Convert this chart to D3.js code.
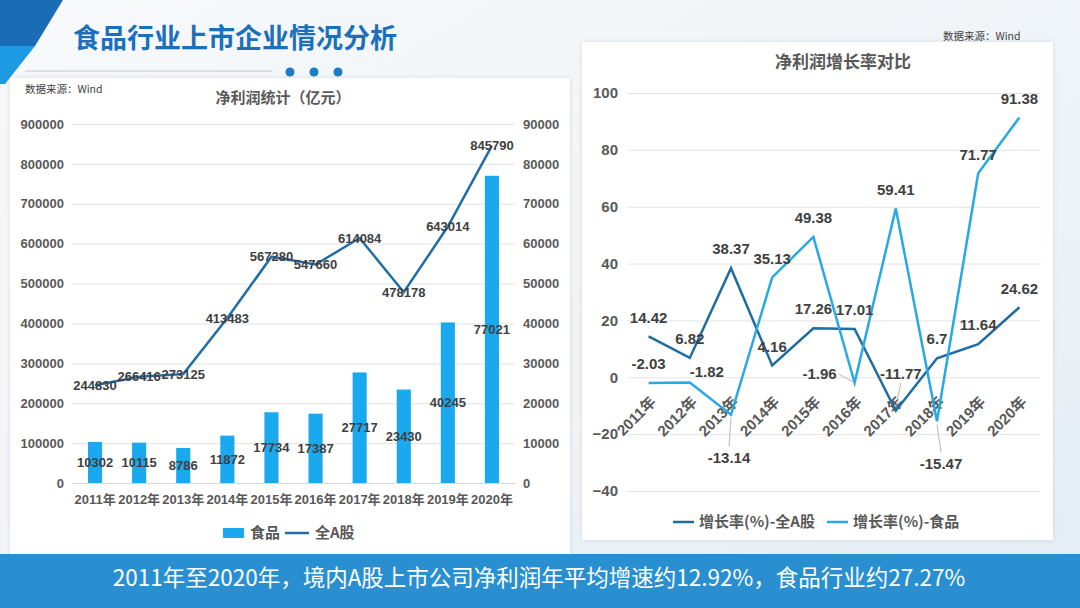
<!DOCTYPE html>
<html><head><meta charset="utf-8">
<script src="https://cdn.jsdelivr.net/npm/d3@7/dist/d3.min.js"></script>
<style>
html,body{margin:0;padding:0;background:#fff;}
svg{display:block;font-family:"Liberation Sans","Noto Sans CJK SC",Arial,sans-serif;}
</style></head>
<body>
<svg id="c" width="1080" height="608"></svg>
<script>
// ---- data ----
const years = ['2011年','2012年','2013年','2014年','2015年','2016年','2017年','2018年','2019年','2020年'];
const foodProfit = [10302,10115,8786,11872,17734,17387,27717,23430,40245,77021];
const allAProfit = [244830,266416,273125,413483,567280,547660,614084,478178,643014,845790];
const allAGrowth = [14.42,6.82,38.37,4.16,17.26,17.01,-11.77,6.7,11.64,24.62];
const foodGrowth = [-2.03,-1.82,-13.14,35.13,49.38,-1.96,59.41,-15.47,71.77,91.38];
const leftTicks = [0,100000,200000,300000,400000,500000,600000,700000,800000,900000];
const rightTicks = [0,10000,20000,30000,40000,50000,60000,70000,80000,90000];
const growthTicks = [-40,-20,0,20,40,60,80,100];

// ---- label placement tweaks (layout only) ----
const labelShift = {
  'food-1':[17,8], 'food-2':[-2,62], 'food-5':[-35,10], 'food-7':[4,61],
  'all-6':[5,-18]
};
const leaders = {'food-2':true,'food-5':true,'food-7':true,'all-6':true};

const svg = d3.select('#c');
const defs = svg.append('defs');
const bg = defs.append('linearGradient').attr('id','bg').attr('x1',0).attr('y1',0).attr('x2',1).attr('y2',1);
bg.append('stop').attr('offset','0%').attr('stop-color','#f7f9fb');
bg.append('stop').attr('offset','60%').attr('stop-color','#eef3f7');
bg.append('stop').attr('offset','100%').attr('stop-color','#e3edf5');
const sh = defs.append('filter').attr('id','sh').attr('x','-5%').attr('y','-5%').attr('width','110%').attr('height','110%');
sh.append('feDropShadow').attr('dx',0).attr('dy',0).attr('stdDeviation',2).attr('flood-color','#9aa9b8').attr('flood-opacity',0.35);

svg.append('rect').attr('width',1080).attr('height',608).attr('fill','url(#bg)');

// top-left decorative shape
svg.append('polygon').attr('points','0,0 63,0 35,46 0,46').attr('fill','#1a6db5');
svg.append('polygon').attr('points','0,46 35,46 5,84 0,84').attr('fill','#1c9ae4');

// title
svg.append('text').attr('x',73).attr('y',48).attr('font-size',27).attr('font-weight','bold')
  .attr('fill','#1b70bb').attr('font-family','"Noto Sans CJK SC",sans-serif').text('食品行业上市企业情况分析');
svg.append('line').attr('x1',25).attr('x2',272).attr('y1',71).attr('y2',71).attr('stroke','#bfc6cc').attr('stroke-width',1);
[290,314,338].forEach(cx=>svg.append('circle').attr('cx',cx).attr('cy',72).attr('r',4.5).attr('fill','#1a7cc4'));

// panels
svg.append('rect').attr('x',10).attr('y',78).attr('width',560).attr('height',480).attr('fill','#fff').attr('filter','url(#sh)');
svg.append('rect').attr('x',582).attr('y',42).attr('width',471).attr('height',498).attr('fill','#fff').attr('filter','url(#sh)');

// bottom band
svg.append('rect').attr('x',0).attr('y',554).attr('width',1080).attr('height',54).attr('fill','#2a8fd1');
svg.append('text').attr('x',539).attr('y',586).attr('text-anchor','middle').attr('font-size',22.5)
  .attr('fill','#ffffff').attr('font-family','"Noto Sans CJK SC",sans-serif')
  .text('2011年至2020年，境内A股上市公司净利润年平均增速约12.92%，食品行业约27.27%');

const txtCol = '#404040', axCol = '#595959', grid = '#e3e3e3';

// ================= LEFT CHART =================
const L = {x0:73, x1:514, yTop:124, yBot:483};
svg.append('text').attr('x',25).attr('y',93).attr('font-size',10.5).attr('fill','#404040')
  .attr('font-family','"Noto Sans CJK SC",sans-serif').text('数据来源：Wind');
svg.append('text').attr('x',283).attr('y',103).attr('text-anchor','middle').attr('font-size',15).attr('font-weight','bold')
  .attr('fill',axCol).attr('font-family','"Noto Sans CJK SC",sans-serif').text('净利润统计（亿元）');

const xL = d3.scaleBand().domain(years).range([L.x0,L.x1]).paddingInner(0.68).paddingOuter(0.34);
const yL = d3.scaleLinear().domain([0,900000]).range([L.yBot,L.yTop]);
const yR = d3.scaleLinear().domain([0,90000]).range([L.yBot,L.yTop]);
const cx = d => xL(d)+xL.bandwidth()/2;

// grid
const gG = svg.append('g').attr('transform',`translate(${L.x0-1},0)`)
  .call(d3.axisLeft(yL).tickValues(leftTicks).tickSize(-(L.x1-L.x0+2)).tickFormat(''));
gG.select('.domain').remove();
gG.selectAll('line').attr('stroke',grid);

const gLA = svg.append('g').attr('transform',`translate(${L.x0-1},0)`)
  .call(d3.axisLeft(yL).tickValues(leftTicks).tickSize(0).tickPadding(8).tickFormat(d3.format('d')));
gLA.select('.domain').remove();
gLA.selectAll('text').attr('font-size',13).attr('font-weight','bold').attr('fill',axCol);

const gRA = svg.append('g').attr('transform',`translate(${L.x1+1},0)`)
  .call(d3.axisRight(yR).tickValues(rightTicks).tickSize(0).tickPadding(8).tickFormat(d3.format('d')));
gRA.select('.domain').remove();
gRA.selectAll('text').attr('font-size',13).attr('font-weight','bold').attr('fill',axCol);

const gX = svg.append('g').attr('transform',`translate(0,${L.yBot})`)
  .call(d3.axisBottom(xL).tickSize(0).tickPadding(12));
gX.select('.domain').attr('stroke','#d9d9d9');
gX.selectAll('text').attr('font-size',13).attr('font-weight','bold').attr('fill',axCol)
  .attr('font-family','"Liberation Sans","Noto Sans CJK SC",sans-serif');

const barCol = '#1aa8ee', lineCol = '#1f6ea8';
svg.append('g').selectAll('rect').data(years).join('rect')
  .attr('x',d=>xL(d)).attr('width',xL.bandwidth())
  .attr('y',(d,i)=>yR(foodProfit[i])).attr('height',(d,i)=>L.yBot-yR(foodProfit[i]))
  .attr('fill',barCol);

const lineL = d3.line().x((d,i)=>cx(years[i])).y(d=>yL(d));
svg.append('path').datum(allAProfit).attr('d',lineL).attr('fill','none').attr('stroke',lineCol).attr('stroke-width',2.5);

svg.append('g').selectAll('text').data(years).join('text')
  .attr('x',d=>cx(d)).attr('y',(d,i)=>(yR(foodProfit[i])+L.yBot)/2).attr('dy','0.35em')
  .attr('text-anchor','middle').attr('font-size',13).attr('font-weight','bold').attr('fill',txtCol)
  .text((d,i)=>foodProfit[i]);
svg.append('g').selectAll('text').data(years).join('text')
  .attr('x',d=>cx(d)).attr('y',(d,i)=>yL(allAProfit[i])).attr('dy','0.35em')
  .attr('text-anchor','middle').attr('font-size',13).attr('font-weight','bold').attr('fill',txtCol)
  .text((d,i)=>allAProfit[i]);

// legend left
const lgL = svg.append('g').attr('font-family','"Noto Sans CJK SC",sans-serif');
lgL.append('rect').attr('x',223).attr('y',528).attr('width',21).attr('height',10).attr('fill',barCol);
lgL.append('text').attr('x',250).attr('y',538).attr('font-size',15).attr('font-weight','bold').attr('fill',axCol).text('食品');
lgL.append('line').attr('x1',285).attr('x2',309).attr('y1',533).attr('y2',533).attr('stroke',lineCol).attr('stroke-width',2.5);
lgL.append('text').attr('x',315).attr('y',538).attr('font-size',15).attr('font-weight','bold').attr('fill',axCol).text('全A股');

// ================= RIGHT CHART =================
const R = {x0:628, x1:1040, yTop:93, yBot:491};
svg.append('text').attr('x',943).attr('y',40).attr('font-size',10.5).attr('fill','#404040')
  .attr('font-family','"Noto Sans CJK SC",sans-serif').text('数据来源：Wind');
svg.append('text').attr('x',843).attr('y',68).attr('text-anchor','middle').attr('font-size',17).attr('font-weight','bold')
  .attr('fill',axCol).attr('font-family','"Noto Sans CJK SC",sans-serif').text('净利润增长率对比');

const xG = d3.scalePoint().domain(years).range([R.x0,R.x1]).padding(0.5);
const yG = d3.scaleLinear().domain([-40,100]).range([R.yBot,R.yTop]);

const gGG = svg.append('g').attr('transform',`translate(${R.x0},0)`)
  .call(d3.axisLeft(yG).tickValues(growthTicks).tickSize(-(R.x1-R.x0)).tickFormat(''));
gGG.select('.domain').remove();
gGG.selectAll('line').attr('stroke',grid);

const gGA = svg.append('g').attr('transform',`translate(${R.x0},0)`)
  .call(d3.axisLeft(yG).tickValues(growthTicks).tickSize(0).tickPadding(10).tickFormat(d3.format('d')));
gGA.select('.domain').remove();
gGA.selectAll('text').attr('font-size',15).attr('font-weight','bold').attr('fill',axCol);

const gGX = svg.append('g').attr('transform',`translate(0,${yG(0)})`)
  .call(d3.axisBottom(xG).tickSize(0).tickFormat(d=>d));
gGX.select('.domain').remove();
gGX.selectAll('text').attr('font-size',15).attr('font-weight','bold').attr('fill',axCol)
  .attr('text-anchor','end').attr('dy','0.35em')
  .attr('font-family','"Liberation Sans","Noto Sans CJK SC",sans-serif')
  .attr('transform','translate(4,22) rotate(-45)').attr('y',0);

const darkCol = '#1e6ca4', lightCol = '#27a9e3';
const lineG = d3.line().x((d,i)=>xG(years[i])).y(d=>yG(d));
svg.append('path').datum(allAGrowth).attr('d',lineG).attr('fill','none').attr('stroke',darkCol).attr('stroke-width',2.5);
svg.append('path').datum(foodGrowth).attr('d',lineG).attr('fill','none').attr('stroke',lightCol).attr('stroke-width',2.5);

function drawLabels(arr,key){
  const g = svg.append('g');
  arr.forEach((v,i)=>{
    const px = xG(years[i]), py = yG(v);
    const s = labelShift[key+'-'+i] || [0,0];
    const lx = px + s[0], ly = py - 19 + s[1];
    if(leaders[key+'-'+i]){
      let x2 = lx, y2 = ly;
      if(s[1] > 30) y2 = ly - 11;           // label below
      else if(s[0] < -20){ x2 = lx + 19; y2 = ly; } // label left
      else y2 = ly + 9;                      // label above
      g.append('line').attr('x1',px).attr('y1',py + (s[1]>30?3:(s[0]<-20?0:-3))).attr('x2',x2).attr('y2',y2)
        .attr('stroke','#a6a6a6').attr('stroke-width',0.8);
    }
    g.append('text').attr('x',lx).attr('y',ly).attr('dy','0.35em').attr('text-anchor','middle')
      .attr('font-size',15).attr('font-weight','bold').attr('fill',txtCol).text(v);
  });
}
drawLabels(allAGrowth,'all');
drawLabels(foodGrowth,'food');

// legend right
const lgR = svg.append('g').attr('font-family','"Noto Sans CJK SC",sans-serif');
lgR.append('line').attr('x1',673).attr('x2',694).attr('y1',522).attr('y2',522).attr('stroke',darkCol).attr('stroke-width',2.5);
lgR.append('text').attr('x',699).attr('y',527).attr('font-size',15).attr('font-weight','bold').attr('fill',axCol).text('增长率(%)-全A股');
lgR.append('line').attr('x1',827).attr('x2',848).attr('y1',522).attr('y2',522).attr('stroke',lightCol).attr('stroke-width',2.5);
lgR.append('text').attr('x',853).attr('y',527).attr('font-size',15).attr('font-weight','bold').attr('fill',axCol).text('增长率(%)-食品');
</script>
</body></html>
